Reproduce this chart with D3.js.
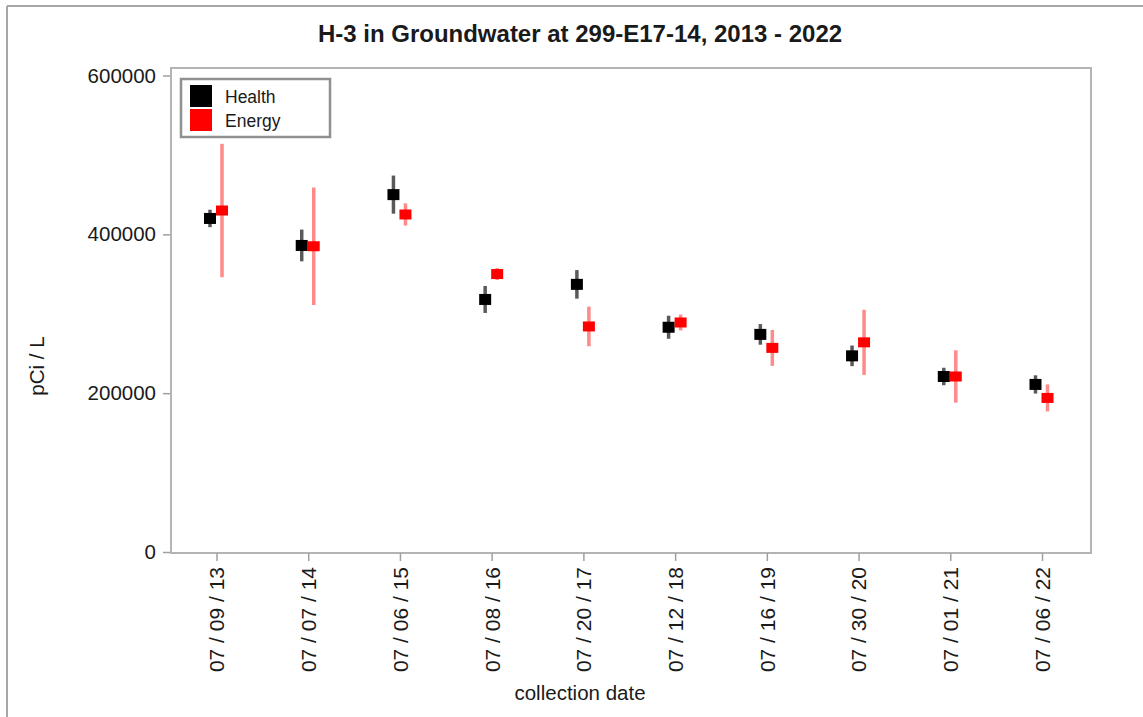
<!DOCTYPE html>
<html>
<head>
<meta charset="utf-8">
<script src="https://cdn.jsdelivr.net/npm/d3@7"></script>
<style>
  html, body { margin: 0; padding: 0; background: #fff; }
  svg { display: block; }
  text { font-family: "Liberation Sans", Arial, sans-serif; fill: #1a1a1a; }
</style>
</head>
<body>
<svg id="chart" width="1143" height="717"></svg>
<script>
// Sample collection dates (one sampling event per year)
const dates = ["07 / 09 / 13", "07 / 07 / 14", "07 / 06 / 15", "07 / 08 / 16", "07 / 20 / 17",
               "07 / 12 / 18", "07 / 16 / 19", "07 / 30 / 20", "07 / 01 / 21", "07 / 06 / 22"];

// Tritium results (pCi/L) and reported uncertainty, by laboratory
const healthValues = [420000, 386000, 450000, 318000, 337000, 283000, 274000, 247000, 221000, 211000];
const healthErrors = [11000, 20000, 24000, 17000, 18000, 14500, 13000, 13000, 11000, 11500];
const energyValues = [430000, 385000, 425000, 350000, 284000, 289000, 257000, 264000, 221000, 194000];
const energyErrors = [84000, 74000, 14000, 7500, 25000, 10000, 22600, 41000, 33000, 17000];

const yTicks = [0, 200000, 400000, 600000];
const seriesNames = ["Health", "Energy"];

const svg = d3.select("#chart");

// outer frame (left and top edges)
svg.append("line").attr("x1", 7).attr("x2", 7).attr("y1", 6).attr("y2", 717)
  .attr("stroke", "#a6a6a6").attr("stroke-width", 2);
svg.append("line").attr("x1", 7).attr("x2", 1143).attr("y1", 6).attr("y2", 6)
  .attr("stroke", "#a6a6a6").attr("stroke-width", 2);

const plot = { left: 171, right: 1091, top: 68, bottom: 553 };

const x = d3.scalePoint().domain(dates).range([216.5, 1042]);
const y = d3.scaleLinear().domain([0, 600000]).range([552, 75.5]);

// plot frame
svg.append("rect")
  .attr("x", plot.left).attr("y", plot.top)
  .attr("width", plot.right - plot.left).attr("height", plot.bottom - plot.top)
  .attr("fill", "none").attr("stroke", "#b4b4b4").attr("stroke-width", 2);

// y axis
const yAxis = svg.append("g").attr("transform", `translate(${plot.left - 1},0)`)
  .call(d3.axisLeft(y).tickValues(yTicks).tickFormat(d3.format("d")).tickSize(7).tickPadding(7));
yAxis.select(".domain").remove();
yAxis.selectAll(".tick line").attr("stroke", "#a0a0a0").attr("stroke-width", 1.5);
yAxis.selectAll(".tick text").attr("font-size", 20.5).attr("fill", "#1a1a1a")
  .attr("font-family", "Liberation Sans, Arial, sans-serif");

// x axis
const xAxis = svg.append("g").attr("transform", `translate(0,${plot.bottom})`)
  .call(d3.axisBottom(x).tickSize(8).tickPadding(6));
xAxis.select(".domain").remove();
xAxis.selectAll(".tick line").attr("stroke", "#a0a0a0").attr("stroke-width", 1.5);
xAxis.selectAll(".tick text")
  .attr("font-size", 21).attr("fill", "#1a1a1a")
  .attr("font-family", "Liberation Sans, Arial, sans-serif")
  .attr("text-anchor", "end")
  .attr("dy", "0.35em")
  .attr("transform", "translate(0,14) rotate(-90)")
  .attr("x", 0).attr("y", 0);

// axis titles
svg.append("text").attr("x", 580).attr("y", 700).attr("text-anchor", "middle")
  .attr("font-size", 20.5).text("collection date");
svg.append("text").attr("transform", "translate(44,366) rotate(-90)")
  .attr("text-anchor", "middle").attr("font-size", 20.5).text("pCi / L");

// title
svg.append("text").attr("x", 580).attr("y", 42).attr("text-anchor", "middle")
  .attr("font-size", 24).attr("font-weight", "bold").text("H-3 in Groundwater at 299-E17-14, 2013 - 2022");

// series drawing
const series = [
  { name: seriesNames[0], values: healthValues, errors: healthErrors, dx: -6.5, fill: "#000000", bar: "#5a5a5a", barW: 3.5, h: 11 },
  { name: seriesNames[1], values: energyValues, errors: energyErrors, dx: 5.5, fill: "#ff0000", bar: "#ff8a8a", barW: 3.5, h: 10 }
];

series.forEach(s => {
  const g = svg.append("g");
  const pts = dates.map((d, i) => ({ d, v: s.values[i], e: s.errors[i] }));
  g.selectAll("line.err").data(pts).join("line")
    .attr("class", "err")
    .attr("x1", p => x(p.d) + s.dx).attr("x2", p => x(p.d) + s.dx)
    .attr("y1", p => y(p.v + p.e)).attr("y2", p => y(p.v - p.e))
    .attr("stroke", s.bar).attr("stroke-width", s.barW);
  g.selectAll("rect.mk").data(pts).join("rect")
    .attr("class", "mk")
    .attr("x", p => x(p.d) + s.dx - 6).attr("y", p => y(p.v) - s.h / 2)
    .attr("width", 12).attr("height", s.h)
    .attr("fill", s.fill);
});

// legend
const legend = svg.append("g");
legend.append("rect").attr("x", 181).attr("y", 79).attr("width", 149).attr("height", 58)
  .attr("fill", "#fff").attr("stroke", "#909090").attr("stroke-width", 2.5);
series.forEach((s, i) => {
  legend.append("rect").attr("x", 190).attr("y", 85 + i * 24).attr("width", 22).attr("height", 22)
    .attr("fill", s.fill);
  legend.append("text").attr("x", 225).attr("y", 103 + i * 23.5)
    .attr("font-size", 17.5).text(s.name);
});
</script>
</body>
</html>
